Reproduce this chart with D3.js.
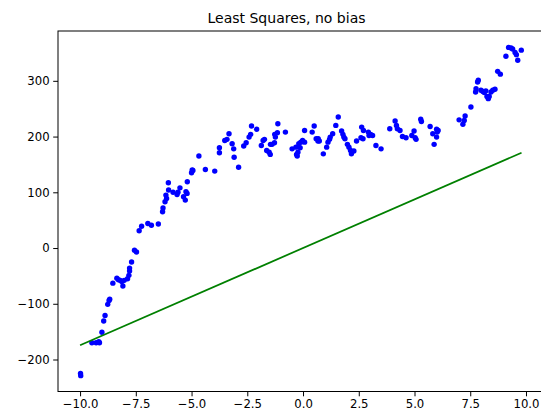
<!DOCTYPE html>
<html>
<head>
<meta charset="utf-8">
<script src="https://cdn.jsdelivr.net/npm/d3@7"></script>
<style>
  body { margin: 0; background: #fff; }
  svg { display: block; font-family: "DejaVu Sans", sans-serif; }
</style>
</head>
<body>
<div id="wrapper"></div>
<script>
// data
const pointX = [-9.98, -9.97, -9.47, -9.28, -9.16, -9.13, -9.02, -8.94, -8.88, -8.76, -8.70, -8.67, -8.53,
  -8.35, -8.28, -8.20, -8.13, -8.08, -8.02, -7.87, -7.81, -7.78, -7.78, -7.69, -7.56, -7.47, -7.35, -7.24,
  -6.96, -6.80, -6.49, -6.30, -6.28, -6.19, -6.15, -6.12, -6.04, -6.03, -5.83, -5.65, -5.61, -5.52, -5.36,
  -5.28, -5.25, -5.20, -5.19, -5.00, -4.97, -4.94, -4.67, -4.38, -3.96, -3.75, -3.75, -3.51, -3.41, -3.32,
  -3.18, -3.11, -3.09, -2.89, -2.66, -2.55, -2.42, -2.35, -2.31, -2.08, -1.87, -1.79, -1.73, -1.63, -1.52,
  -1.47, -1.46, -1.39, -1.28, -1.27, -1.24, -1.15, -1.13, -0.79, -0.49, -0.32, -0.29, -0.26, -0.23, -0.19,
  -0.13, -0.10, -0.02, 0.07, 0.07, 0.41, 0.50, 0.59, 0.67, 0.68, 0.73, 0.91, 1.06, 1.12, 1.19, 1.22, 1.33,
  1.47, 1.58, 1.73, 1.79, 1.83, 1.88, 1.99, 2.06, 2.13, 2.17, 2.28, 2.40, 2.60, 2.63, 2.71, 2.69, 2.93, 2.96,
  3.03, 3.12, 3.27, 3.50, 3.89, 4.13, 4.19, 4.23, 4.35, 4.46, 4.62, 4.88, 4.98, 5.03, 5.07, 5.28, 5.31, 5.70,
  5.82, 5.88, 5.99, 6.02, 5.99, 6.06, 7.00, 7.17, 7.23, 7.27, 7.53, 7.74, 7.76, 7.83, 7.86, 7.98, 8.07, 8.13,
  8.20, 8.25, 8.31, 8.35, 8.43, 8.51, 8.61, 8.73, 8.85, 9.10, 9.22, 9.33, 9.40, 9.51, 9.57, 9.63, 9.79]
const pointY = [-225, -229, -170, -170, -168, -170, -151, -131, -121, -101, -94, -92, -63,
  -54, -57, -58, -60, -68, -58, -55, -49, -36, -41, -25, -4, -7, 31, 39,
  44, 41, 43, 65, 72, 83, 95, 89, 117, 104, 100, 96, 100, 108, 92,
  86, 101, 98, 119, 135, 140, 139, 165, 141, 138, 171, 180, 193, 195, 205,
  187, 178, 163, 145, 183, 189, 199, 204, 219, 213, 184, 193, 195, 175, 172,
  168, 186, 186, 189, 204, 199, 207, 223, 208, 178, 181, 168, 165, 172, 187,
  180, 190, 193, 190, 211, 208, 219, 196, 192, 196, 192, 169, 181, 190, 195, 199, 205,
  220, 235, 210, 204, 199, 196, 186, 181, 175, 169, 174, 192, 198, 217, 211, 196, 208, 202,
  204, 202, 184, 178, 214, 228, 220, 214, 211, 200, 198, 202, 210, 198, 195, 231, 227, 218,
  205, 186, 213, 208, 199, 211, 230, 222, 229, 237, 253, 280, 286, 298, 301, 283, 281, 279,
  282, 272, 268, 272, 280, 283, 285, 317, 312, 344, 360, 359, 357, 351, 347, 337, 355]

// least squares fit without bias: y = w * x
const fitX = [-10, 9.8]
const fitY = [-174.5, 171]

const xTicks = [-10, -7.5, -5, -2.5, 0, 2.5, 5, 7.5, 10]
const yTicks = [-200, -100, 0, 100, 200, 300]
const titleText = "Least Squares, no bias"

function drawChart() {
    //1. mitat
    let dimensions = {
        width: 541,
        height: 414,
        margin: { top: 31, left: 58 }
    }
    dimensions.boundedWidth = 485.6   // right spine falls outside the picture
    dimensions.boundedHeight = 360.5

    //2. pohja-svg
    const wrapper = d3.select("#wrapper")
        .append("svg")
        .attr("width", dimensions.width)
        .attr("height", dimensions.height)

    const boundingBox = wrapper.append("g")
        .attr("transform", `translate(${dimensions.margin.left},${dimensions.margin.top})`)

    //3. skaalaimet (matplotlib style 5% margins)
    const xScale = d3.scaleLinear()
        .domain([-10.99, 10.79])
        .range([0, dimensions.boundedWidth])

    const yScale = d3.scaleLinear()
        .domain([-257.4, 389.4])
        .range([dimensions.boundedHeight, 0])

    //4. data
    const points = pointX.map((x, i) => ({ x: x, y: pointY[i] }))
    const fit = fitX.map((x, i) => ({ x: x, y: fitY[i] }))

    boundingBox.append("g")
        .selectAll("circle")
        .data(points)
        .join("circle")
        .attr("cx", d => xScale(d.x))
        .attr("cy", d => yScale(d.y))
        .attr("r", 2.7)
        .attr("fill", "#0000ff")

    const lineGenerator = d3.line()
        .x(d => xScale(d.x))
        .y(d => yScale(d.y))

    boundingBox.append("path")
        .attr("d", lineGenerator(fit))
        .attr("stroke", "#008000")
        .attr("stroke-width", 1.75)
        .attr("fill", "none")

    //5. akselit
    const fmtX = d => d3.format(".1f")(d).replace("-", "\u2212")
    const fmtY = d => String(d).replace("-", "\u2212")

    const xAxis = boundingBox.append("g")
        .attr("transform", `translate(0,${dimensions.boundedHeight})`)
        .call(d3.axisBottom(xScale).tickValues(xTicks).tickFormat(fmtX)
            .tickSize(4.8).tickPadding(3.6).tickSizeOuter(0))

    const yAxis = boundingBox.append("g")
        .call(d3.axisLeft(yScale).tickValues(yTicks).tickFormat(fmtY)
            .tickSize(4.8).tickPadding(3.6).tickSizeOuter(0))

    for (const ax of [xAxis, yAxis]) {
        ax.selectAll("text").attr("font-size", 11.7).attr("fill", "#000")
            .attr("font-family", "DejaVu Sans")
        ax.selectAll("line").attr("stroke", "#000").attr("stroke-width", 1)
        ax.select(".domain").remove()
    }

    // spines
    boundingBox.append("rect")
        .attr("x", 0)
        .attr("y", 0)
        .attr("width", dimensions.boundedWidth)
        .attr("height", dimensions.boundedHeight)
        .attr("fill", "none")
        .attr("stroke", "#000")
        .attr("stroke-width", 1)

    //6. otsikko
    wrapper.append("text")
        .attr("x", 286.5)
        .attr("y", 23)
        .attr("text-anchor", "middle")
        .attr("font-size", 14)
        .attr("fill", "#000")
        .text(titleText)
}
drawChart()
</script>
</body>
</html>
